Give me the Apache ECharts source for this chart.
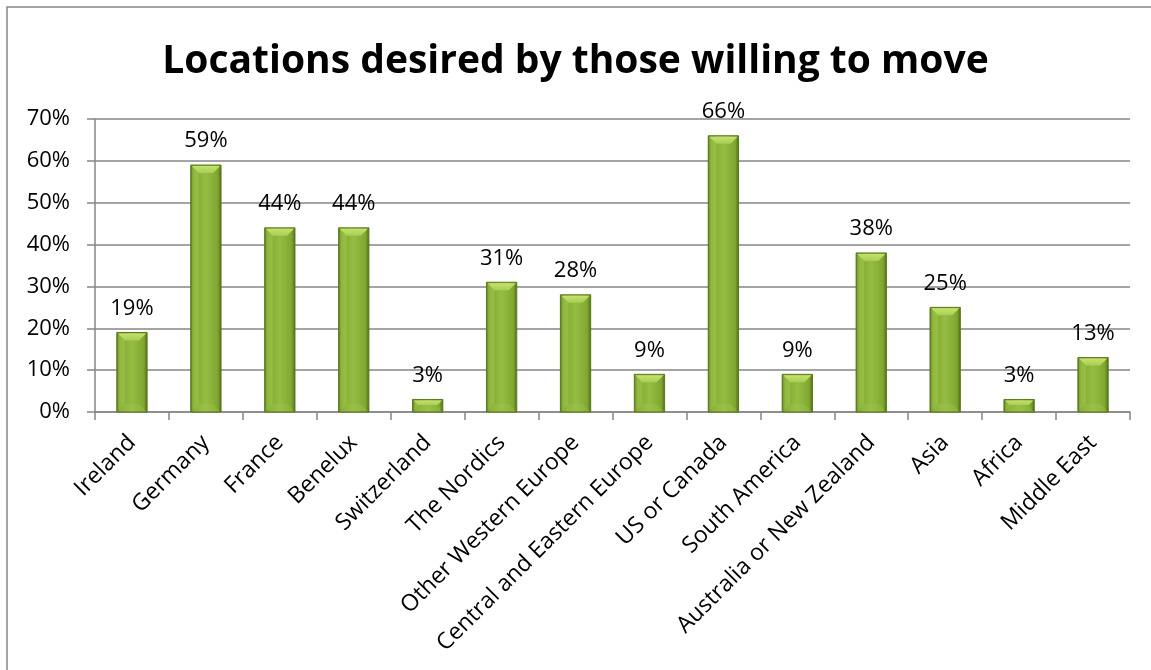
<!DOCTYPE html>
<html>
<head>
<meta charset="utf-8">
<title>Locations desired by those willing to move</title>
<script src="https://cdn.jsdelivr.net/npm/echarts@6/dist/echarts.min.js"></script>
<style>
  html, body { margin: 0; padding: 0; background: #fff; }
  #chart { width: 1151px; height: 670px; }
</style>
</head>
<body>
<div id="chart"></div>
<script>
// Destinations named by respondents who would relocate
const categories = [
  'Ireland', 'Germany', 'France', 'Benelux', 'Switzerland', 'The Nordics',
  'Other Western Europe', 'Central and Eastern Europe', 'US or Canada',
  'South America', 'Australia or New Zealand', 'Asia', 'Africa', 'Middle East'
];
// Share of respondents (%)
const shares = [19, 59, 44, 44, 3, 31, 28, 9, 66, 9, 38, 25, 3, 13];
// Value axis ticks (%)
const yTicks = [0, 10, 20, 30, 40, 50, 60, 70];

const FONT = '"Open Sans", "Noto Sans", sans-serif';
const AXIS_GRAY = '#868686';

const chart = echarts.init(document.getElementById('chart'), null, { renderer: 'canvas' });

// Bevelled column: gradient body, light top facet, lighter bottom facet, value text above
function renderBevelBar(params, api) {
  const idx = api.value(0);
  const val = api.value(1);
  const top = api.coord([idx, val]);
  const base = api.coord([idx, 0]);
  const w = api.size([1, 0])[0] * 0.41;
  const x = top[0] - w / 2;
  const y = top[1];
  const h = base[1] - top[1];
  const b = Math.min(8, h / 2.2);

  const body = {
    type: 'rect',
    shape: { x: x, y: y, width: w, height: h },
    style: {
      fill: new echarts.graphic.LinearGradient(0, 0, 1, 0, [
        { offset: 0, color: '#4f6e16' },
        { offset: 0.12, color: '#80a631' },
        { offset: 0.5, color: '#95bd43' },
        { offset: 0.88, color: '#80a631' },
        { offset: 1, color: '#4a6813' }
      ]),
      stroke: '#5a7a1c',
      lineWidth: 1
    }
  };
  const topFacet = {
    type: 'polygon',
    shape: { points: [[x + 1, y + 1], [x + w - 1, y + 1], [x + w - b, y + b], [x + b, y + b]] },
    style: {
      fill: new echarts.graphic.LinearGradient(0, 0, 0, 1, [
        { offset: 0, color: '#c4e26e' },
        { offset: 1, color: '#a9cd52' }
      ])
    }
  };
  const leftFacet = {
    type: 'polygon',
    shape: { points: [[x + 1, y + 1], [x + b, y + b], [x + b, y + h - b], [x + 1, y + h - 1]] },
    style: { fill: 'rgba(190,225,100,0.3)' }
  };
  const bottomFacet = {
    type: 'polygon',
    shape: { points: [[x + 1, y + h - 1], [x + b, y + h - b], [x + w - b, y + h - b], [x + w - 1, y + h - 1]] },
    style: { fill: 'rgba(160,200,80,0.35)' }
  };
  const label = {
    type: 'text',
    style: {
      text: val + '%',
      x: top[0],
      y: y - 13,
      align: 'center',
      verticalAlign: 'bottom',
      fontFamily: FONT,
      fontSize: 22,
      fill: '#000'
    }
  };
  return { type: 'group', children: [body, leftFacet, topFacet, bottomFacet, label] };
}

chart.setOption({
  backgroundColor: '#ffffff',
  animation: false,
  title: {
    text: 'Locations desired by those willing to move',
    left: 'center',
    top: 37,
    textStyle: { fontFamily: FONT, fontWeight: 'bold', fontSize: 39, color: '#000' }
  },
  graphic: [{
    type: 'rect',
    shape: { x: 7, y: 7, width: 1200, height: 700 },
    style: { fill: 'none', stroke: AXIS_GRAY, lineWidth: 1.5 },
    z: 100
  }],
  grid: { left: 95, right: 21, top: 119, bottom: 258, containLabel: false },
  xAxis: {
    type: 'category',
    data: categories,
    axisLine: { lineStyle: { color: AXIS_GRAY, width: 1.5 } },
    axisTick: { show: true, alignWithLabel: false, length: 8, lineStyle: { color: AXIS_GRAY, width: 1.5 } },
    axisLabel: {
      rotate: 45,
      interval: 0,
      margin: 27,
      fontFamily: FONT,
      fontSize: 23,
      color: '#000'
    }
  },
  yAxis: {
    type: 'value',
    min: yTicks[0],
    max: yTicks[yTicks.length - 1],
    interval: yTicks[1] - yTicks[0],
    axisLine: { show: true, lineStyle: { color: AXIS_GRAY, width: 1.5 } },
    axisTick: { show: true, length: 8, lineStyle: { color: AXIS_GRAY, width: 1.5 } },
    splitLine: { show: true, lineStyle: { color: AXIS_GRAY, width: 1.5 } },
    axisLabel: {
      formatter: '{value}%',
      margin: 25,
      fontFamily: FONT,
      fontSize: 22,
      color: '#000'
    }
  },
  series: [{
    type: 'custom',
    renderItem: renderBevelBar,
    encode: { x: 0, y: 1 },
    data: shares.map((v, i) => [i, v]),
    z: 3
  }]
});
</script>
</body>
</html>
